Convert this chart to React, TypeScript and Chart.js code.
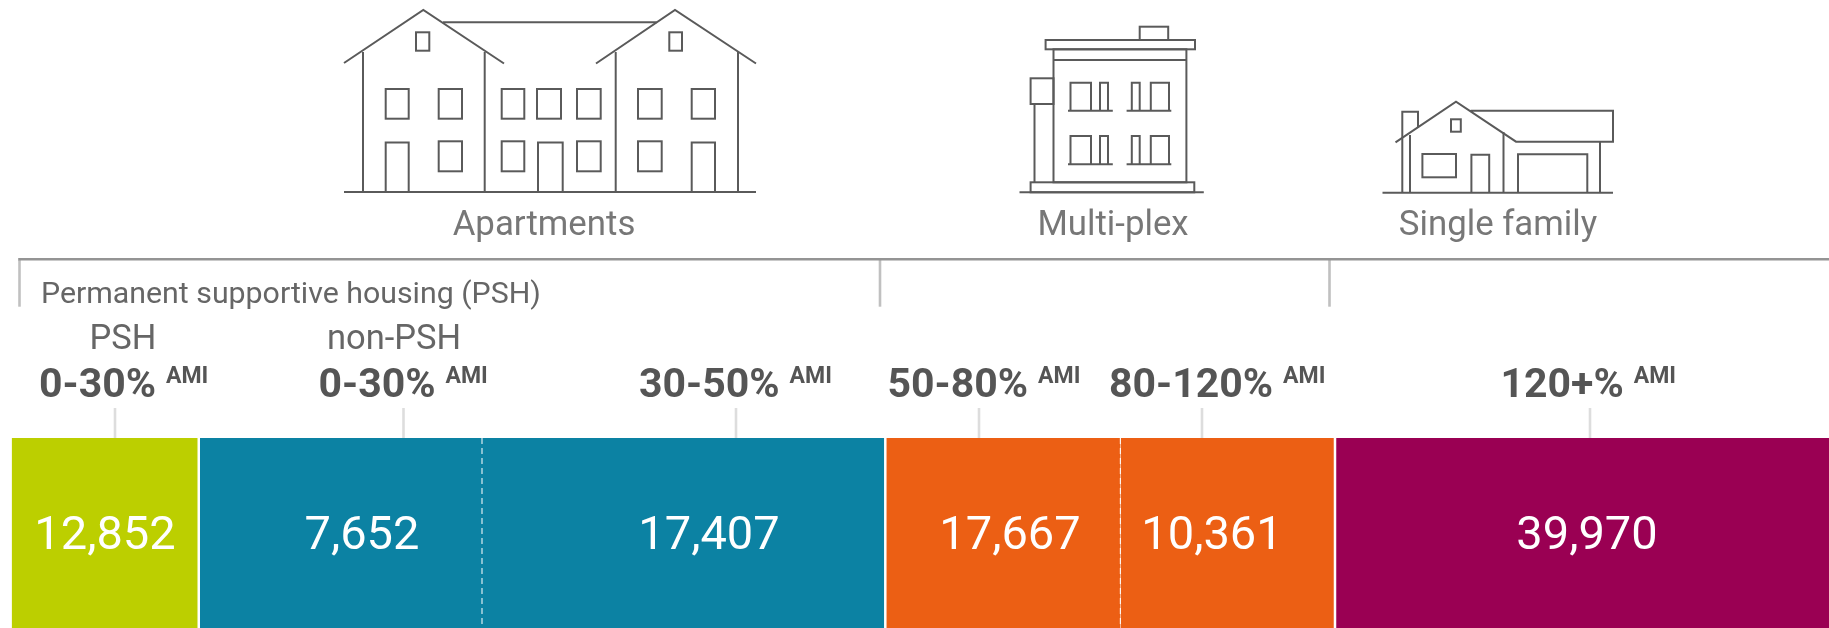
import React, { useEffect, useRef } from "react";
import { Chart, registerables } from "chart.js";

Chart.register(...registerables);

// ---- chart content ----
const bandLabels = ["0-30%", "0-30%", "30-50%", "50-80%", "80-120%", "120+%"];
const bandSubLabels = ["PSH", "non-PSH", "", "", "", ""];
const displayedUnits = ["12,852", "7,652", "17,407", "17,667", "10,361", "39,970"];
// Segment lengths (the original is not drawn to the printed values)
const segmentLengths = [187.25, 283.25, 403.3, 235.1, 214.6, 494];
const segmentColors = ["#BCCF00", "#0C82A3", "#0C82A3", "#EC5F14", "#EC5F14", "#9A0053"];
const housingTypes = ["Apartments", "Multi-plex", "Single family"];
const bracketNote = "Permanent supportive housing (PSH)";
const supLabel = "AMI";

// ---- layout of the annotations (not data) ----
const W = 1829;
const H = 628;
const FONT = "Roboto, sans-serif";
const valueCenters = [105, 362, 709, 1010, 1212, 1587];
const bandLabelStarts = [39, 318.5, 639, 887.5, 1109, 1500.5];
const subLabelCenters = [123, 394];
const tickXs = [115, 403.5, 736, 979, 1202, 1590];
const bracketXs = [19.5, 880, 1329.5];
const typeCenters = [544, 1113, 1498];
const gapAfter = [1.25, 0, 1.25, 0, 1.25, 0];
const gapBefore = [0, 1.25, 0, 1.25, 0, 1.25];

type C = CanvasRenderingContext2D;
const line = (c: C, pts: number[]) => {
  c.beginPath();
  c.moveTo(pts[0], pts[1]);
  for (let i = 2; i < pts.length; i += 2) c.lineTo(pts[i], pts[i + 1]);
  c.stroke();
};
const box = (c: C, x0: number, y0: number, x1: number, y1: number) => c.strokeRect(x0, y0, x1 - x0, y1 - y0);

function drawApartments(c: C) {
  line(c, [344, 192, 756, 192]);
  line(c, [344, 63, 423.3, 10, 504, 63.5]);
  line(c, [596, 63.5, 675, 10, 756, 63.5]);
  line(c, [443, 22.3, 656.7, 22.3]);
  [363, 484.7, 615.7, 738].forEach((x) => line(c, [x, 52, x, 192]));
  box(c, 416, 32.3, 429.3, 50.7);
  box(c, 669.3, 32.3, 682, 50.7);
  [[385.7, 408.7], [438.7, 462], [501.7, 524.3], [537, 561], [577, 600.7], [638, 661.7], [691.7, 715]].forEach(([a, b]) =>
    box(c, a, 89, b, 118.7)
  );
  [[438.7, 462], [501.7, 524.3], [577, 600.7], [638, 661.7]].forEach(([a, b]) => box(c, a, 141.3, b, 171.3));
  [[385.7, 408.7], [538, 562.7], [691.7, 715]].forEach(([a, b]) => line(c, [a, 192, a, 142.5, b, 142.5, b, 192]));
}

function drawMultiplex(c: C) {
  line(c, [1019.5, 192.3, 1203.8, 192.3]);
  box(c, 1030.6, 182.3, 1194.3, 192.3);
  box(c, 1053.5, 49.3, 1186.4, 182.3);
  box(c, 1045.6, 40, 1195, 49.3);
  box(c, 1139.7, 26.7, 1168.2, 40);
  line(c, [1053.5, 60, 1186.4, 60]);
  box(c, 1030.6, 78.3, 1053.5, 104);
  line(c, [1034.5, 104, 1034.5, 182.3]);
  [[82.7, 110.7], [136, 164.3]].forEach(([t, b]) => {
    line(c, [1070.5, b, 1070.5, t, 1091, t, 1091, b]);
    line(c, [1100, b, 1100, t, 1108, t, 1108, b]);
    line(c, [1068, b, 1112.8, b]);
    line(c, [1131.8, b, 1131.8, t, 1139.7, t, 1139.7, b]);
    line(c, [1150.8, b, 1150.8, t, 1169, t, 1169, b]);
    line(c, [1126.6, b, 1171.3, b]);
  });
}

function drawSingleFamily(c: C) {
  line(c, [1382.5, 192.7, 1613, 192.7]);
  line(c, [1395.5, 142.3, 1456, 101.7, 1516, 141.7, 1613, 141.7, 1613, 110.7, 1470.7, 110.7]);
  line(c, [1402.3, 192.7, 1402.3, 111.7, 1418, 111.7, 1418, 128]);
  line(c, [1410, 135, 1410, 192.7]);
  line(c, [1503.5, 132, 1503.5, 192.7]);
  line(c, [1600, 141.7, 1600, 192.7]);
  box(c, 1451, 119.3, 1460.8, 131.7);
  box(c, 1422.4, 154, 1456, 177.3);
  line(c, [1471.4, 192.7, 1471.4, 154.7, 1489.2, 154.7, 1489.2, 192.7]);
  line(c, [1518, 192.7, 1518, 154.3, 1587.3, 154.3, 1587.3, 192.7]);
}

const annotations = {
  id: "annotations",
  afterDatasetsDraw(chart: any) {
    const c: C = chart.ctx;
    const x = chart.scales.x;
    const area = chart.chartArea;
    c.save();

    // dashed separators inside a colour block, taken from the stacked scale
    const cumulative = (n: number) => segmentLengths.slice(0, n).reduce((a, b) => a + b, 0);
    c.strokeStyle = "rgba(255,255,255,0.85)";
    c.lineWidth = 1.2;
    c.setLineDash([6, 4]);
    [2, 4].forEach((n) => {
      const px = x.getPixelForValue(cumulative(n));
      line(c, [px, area.top, px, area.bottom]);
    });
    c.setLineDash([]);

    // values
    c.fillStyle = "#FFFFFF";
    c.textAlign = "center";
    c.textBaseline = "alphabetic";
    c.font = `400 47px ${FONT}`;
    displayedUnits.forEach((t, i) => c.fillText(t, valueCenters[i], 549));

    c.filter = "blur(0.7px)";

    // leader ticks
    c.strokeStyle = "#DDDDDD";
    c.lineWidth = 2.6;
    tickXs.forEach((px) => line(c, [px, 408, px, 438]));

    // bracket
    c.strokeStyle = "#C0C0C0";
    c.lineWidth = 2.6;
    bracketXs.forEach((px) => line(c, [px, 260, px, 306.7]));
    c.strokeStyle = "#949494";
    line(c, [18.2, 259.3, W, 259.3]);

    // band labels
    c.textAlign = "left";
    bandLabels.forEach((t, i) => {
      c.fillStyle = "#555555";
      c.font = `700 41px ${FONT}`;
      c.fillText(t, bandLabelStarts[i], 397);
      const w = c.measureText(t).width;
      c.font = `700 23px ${FONT}`;
      c.fillText(supLabel, bandLabelStarts[i] + w + 10, 383);
    });

    c.textAlign = "center";
    c.fillStyle = "#666666";
    c.font = `400 34.5px ${FONT}`;
    bandSubLabels.filter(Boolean).forEach((t, i) => c.fillText(t, subLabelCenters[i], 349));

    c.textAlign = "left";
    c.font = `400 30.3px ${FONT}`;
    c.fillText(bracketNote, 41, 303);

    // housing types
    c.textAlign = "center";
    c.fillStyle = "#777777";
    c.font = `400 34.8px ${FONT}`;
    housingTypes.forEach((t, i) => c.fillText(t, typeCenters[i], 235));

    // icons
    c.strokeStyle = "#5A5A5A";
    c.lineWidth = 2;
    c.lineJoin = "miter";
    drawApartments(c);
    drawMultiplex(c);
    drawSingleFamily(c);

    c.restore();
  },
};

export default function App() {
  const ref = useRef<HTMLCanvasElement | null>(null);
  useEffect(() => {
    if (!ref.current) return;
    const chart = new Chart(ref.current, {
      type: "bar",
      data: {
        labels: ["Units"],
        datasets: segmentLengths.map((v, i) => ({
          label: bandLabels[i],
          data: [v],
          backgroundColor: segmentColors[i],
          borderColor: "#FFFFFF",
          borderWidth: { left: gapBefore[i], right: gapAfter[i], top: 0, bottom: 0 },
          borderSkipped: false,
          inflateAmount: 0,
          barPercentage: 1,
          categoryPercentage: 1,
        })),
      },
      options: {
        indexAxis: "y",
        animation: false,
        responsive: false,
        layout: { padding: { left: 11.5, right: 0, top: 438, bottom: 0 } },
        plugins: { legend: { display: false }, tooltip: { enabled: false }, title: { display: false } },
        scales: {
          x: { stacked: true, display: false, min: 0, max: segmentLengths.reduce((a, b) => a + b, 0) },
          y: { stacked: true, display: false },
        },
      },
      plugins: [annotations],
    } as any);
    return () => chart.destroy();
  }, []);
  return (
    <div style={{ position: "absolute", left: 0, top: 0, width: W, height: H, overflow: "hidden", background: "#FFFFFF" }}>
      <canvas ref={ref} width={W} height={H} style={{ display: "block", width: W, height: H }} />
    </div>
  );
}
